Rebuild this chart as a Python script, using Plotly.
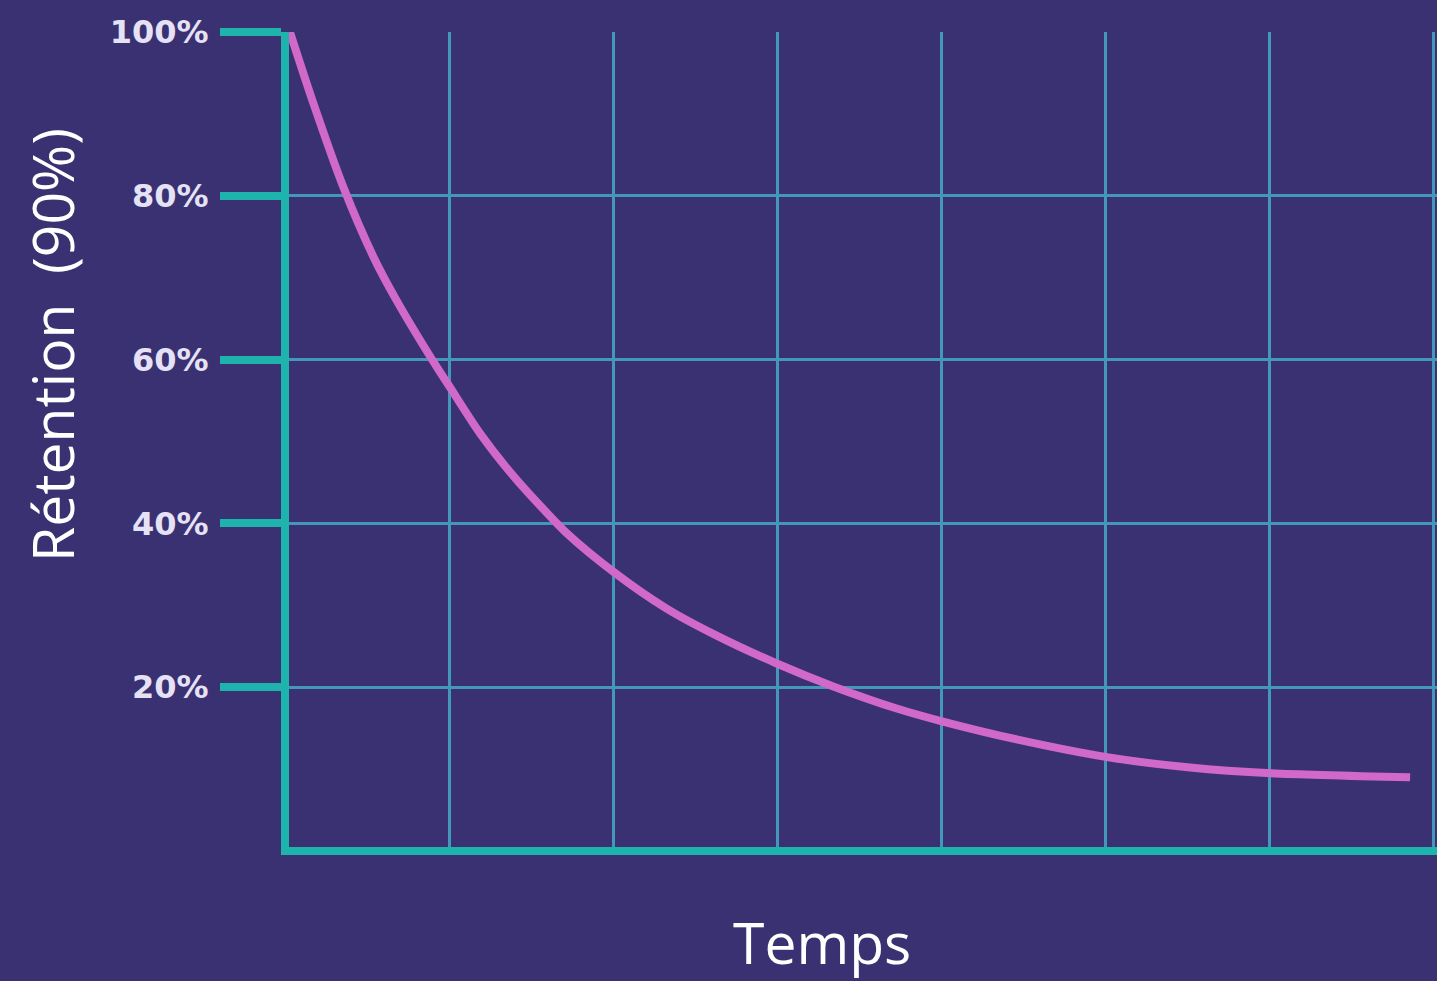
import plotly.graph_objects as go

# Data (time in grid units, retention in %)
temps = [0.03, 0.173, 0.355, 0.538, 0.681, 0.925, 1.00, 1.189, 1.392, 1.596, 1.718,
         2.002, 2.327, 2.632, 2.998, 3.343, 3.730, 3.994, 4.468, 5.003, 5.518, 6.012, 6.860]
retention = [100.0, 91.3, 81.1, 72.6, 67.2, 59.1, 56.8, 51.0, 45.8, 41.3, 38.8,
             34.1, 29.6, 26.3, 22.9, 20.1, 17.4, 15.9, 13.6, 11.5, 10.2, 9.5, 9.0]

y_ticks = [20, 40, 60, 80, 100]
y_tick_labels = ["20%", "40%", "60%", "80%", "100%"]
x_grid = [1, 2, 3, 4, 5, 6, 7]

x_title = "Temps"
y_title = "Rétention \u00a0(90%)"

BG = "#3a3172"
TEAL = "#1fb3ad"
GRID = "#4397b8"
PINK = "#d069c8"
LABEL = "#e6e2f6"

fig = go.Figure()
fig.add_trace(go.Scatter(
    x=temps, y=retention, mode="lines",
    line=dict(color=PINK, width=8, shape="spline", smoothing=0.8),
    hoverinfo="skip", showlegend=False,
))

W, H = 1437, 981
L, R, T, B = 289, 0, 32, 134

fig.update_layout(
    width=W, height=H,
    margin=dict(l=L, r=R, t=T, b=B, pad=0),
    paper_bgcolor=BG, plot_bgcolor=BG,
    showlegend=False,
    xaxis=dict(
        range=[0.0244, 7.024], tickvals=x_grid, showticklabels=False, ticks="",
        showgrid=True, gridcolor=GRID, gridwidth=3,
        showline=True, linecolor=TEAL, linewidth=8,
        zeroline=False, fixedrange=True,
    ),
    yaxis=dict(
        range=[0.49, 100], tickvals=y_ticks, ticktext=y_tick_labels,
        ticks="outside", ticklen=61, tickwidth=8, tickcolor=TEAL,
        ticklabelstandoff=5,
        tickfont=dict(family="DejaVu Sans", size=32, color=LABEL, weight="bold"),
        showgrid=True, gridcolor=GRID, gridwidth=3,
        showline=True, linecolor=TEAL, linewidth=8,
        zeroline=False, fixedrange=True,
    ),
    annotations=[
        dict(text=x_title, xref="paper", yref="paper",
             x=(822 - L) / (W - L - R), y=-(942 - (H - B)) / (H - T - B),
             xanchor="center", yanchor="middle", showarrow=False,
             font=dict(family="Open Sans", size=57, color="#ffffff")),
        dict(text=y_title, xref="paper", yref="paper", textangle=-90,
             x=-(L - 52) / (W - L - R), y=((H - B) - 345) / (H - T - B),
             xanchor="center", yanchor="middle", showarrow=False,
             font=dict(family="Open Sans", size=57, color="#ffffff")),
    ],
)

fig.write_html(
    "out.html",
    config={"displayModeBar": False},
    post_script="document.body.style.margin='0';document.body.style.padding='0';"
                "document.body.style.background='" + BG + "';",
)
